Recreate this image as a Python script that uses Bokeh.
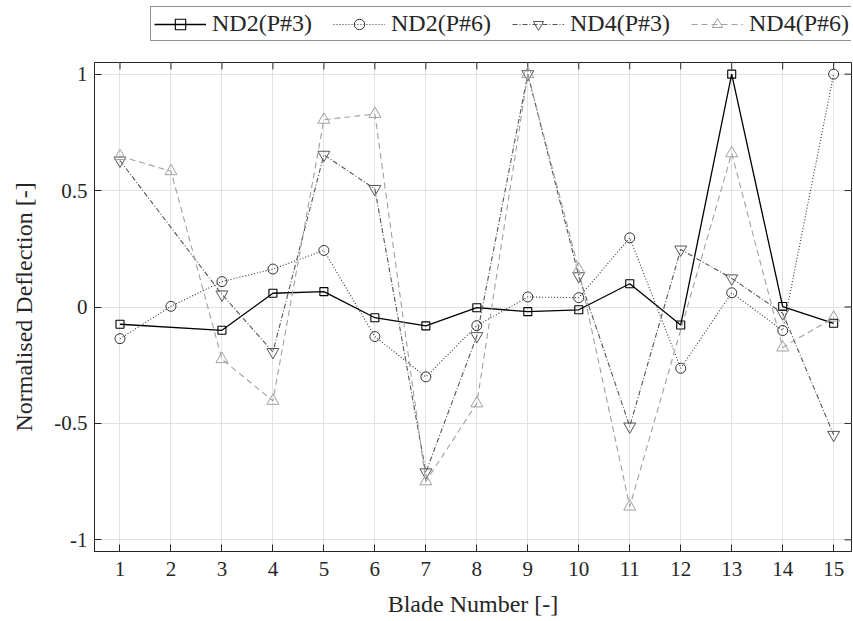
import math
from bokeh.plotting import figure
from bokeh.layouts import column
from bokeh.models import Legend, LegendItem, FixedTicker, Range1d
from bokeh.embed import file_html
from bokeh.resources import INLINE

# ---- data ----
blades = list(range(1, 16))
x_tick_labels = [str(b) for b in blades]
y_ticks = [-1, -0.5, 0, 0.5, 1]
y_tick_labels = ["-1", "-0.5", "0", "0.5", "1"]

nd2_p3_x = [1, 3, 4, 5, 6, 7, 8, 9, 10, 11, 12, 13, 14, 15]
nd2_p3_y = [-0.074, -0.100, 0.059, 0.066, -0.046, -0.081, -0.003, -0.020, -0.012, 0.100, -0.077, 1.000, 0.002, -0.070]

nd2_p6_x = [1, 2, 3, 4, 5, 6, 7, 8, 9, 10, 11, 12, 13, 14, 15]
nd2_p6_y = [-0.136, 0.003, 0.109, 0.163, 0.243, -0.127, -0.300, -0.080, 0.043, 0.040, 0.297, -0.263, 0.061, -0.101, 1.000]

nd4_p3_x = [1, 3, 4, 5, 6, 7, 8, 9, 10, 11, 12, 13, 14, 15]
nd4_p3_y = [0.629, 0.054, -0.193, 0.654, 0.507, -0.710, -0.125, 1.000, 0.133, -0.513, 0.247, 0.123, -0.027, -0.549]

nd4_p6_x = [1, 2, 3, 4, 5, 6, 7, 8, 9, 10, 11, 13, 14, 15]
nd4_p6_y = [0.648, 0.583, -0.224, -0.403, 0.804, 0.829, -0.749, -0.414, 1.000, 0.161, -0.857, 0.660, -0.174, -0.046]

series_labels = ["ND2(P#3)", "ND2(P#6)", "ND4(P#3)", "ND4(P#6)"]

FONT = "Liberation Serif"
AX = "#262626"

styles = [
    dict(line_color="black", line_width=1.3, line_dash="solid", marker="square", size=8, mlw=1.1),
    dict(line_color="#333333", line_width=1.1, line_dash="1 2", marker="circle", size=10, mlw=1),
    dict(line_color="#555555", line_width=1.1, line_dash="5 2 1 2", marker="inverted_triangle", size=12, mlw=1),
    dict(line_color="#a0a0a0", line_width=1.1, line_dash="6 4", marker="triangle", size=12, mlw=1),
]
series = [(nd2_p3_x, nd2_p3_y), (nd2_p6_x, nd2_p6_y), (nd4_p3_x, nd4_p3_y), (nd4_p6_x, nd4_p6_y)]

xr = Range1d(0.5, 15.35)
yr = Range1d(-1.05, 1.05)

# ---------- main plot ----------
p = figure(width=853, height=573, x_range=xr, y_range=yr,
           output_backend="svg", toolbar_location=None,
           min_border_left=94, min_border_right=2, min_border_top=14, min_border_bottom=70)

p.outline_line_color = AX
p.outline_line_width = 1

xt = FixedTicker(ticks=blades)
yt = FixedTicker(ticks=y_ticks)
p.xaxis.ticker = xt
p.yaxis.ticker = yt
p.xaxis.major_label_overrides = {b: l for b, l in zip(blades, x_tick_labels)}
p.yaxis.major_label_overrides = {t: l for t, l in zip(y_ticks, y_tick_labels)}
p.xaxis.axis_label = "Blade Number [-]"
p.yaxis.axis_label = "Normalised Deflection [-]"
for ax in (p.xaxis[0], p.yaxis[0]):
    ax.axis_label_text_font = FONT
    ax.axis_label_text_font_size = "24px"
    ax.axis_label_text_font_style = "normal"
    ax.axis_label_text_color = AX
    ax.major_label_text_font = FONT
    ax.major_label_text_font_size = "21px"
    ax.major_label_text_color = AX
    ax.major_tick_in = 7
    ax.major_tick_out = 0
    ax.minor_tick_line_color = None
    ax.major_tick_line_color = AX
    ax.axis_line_color = AX
p.xaxis.major_label_standoff = 10
p.yaxis.major_label_standoff = 7
p.xaxis.axis_label_standoff = 12
p.yaxis.axis_label_standoff = 14

p.xgrid.ticker = xt
p.ygrid.ticker = yt
p.grid.grid_line_color = "#e2e2e2"
p.grid.grid_line_width = 1

# inward ticks on top and right edges of the box
p.ray(x=blades, y=[yr.end] * len(blades), length=7, length_units="screen",
      angle=-math.pi / 2, line_color=AX, line_width=1)
p.ray(x=[xr.end] * len(y_ticks), y=y_ticks, length=7, length_units="screen",
      angle=math.pi, line_color=AX, line_width=1)

for (xs, ys), st in zip(series, styles):
    p.line(xs, ys, line_color=st["line_color"], line_width=st["line_width"], line_dash=st["line_dash"])
    p.scatter(xs, ys, marker=st["marker"], size=st["size"], line_color=st["line_color"],
              fill_color=None, line_width=st["mlw"])

# ---------- legend strip (same series, drawn out of its view; only the legend shows) ----------
lf = figure(width=853, height=48, x_range=Range1d(100, 101), y_range=Range1d(100, 101),
            x_axis_type=None, y_axis_type=None, output_backend="svg", toolbar_location=None,
            min_border_left=94, min_border_right=2, min_border_top=0, min_border_bottom=0)
lf.grid.visible = False
lf.outline_line_color = None

items = []
for lab, (xs, ys), st in zip(series_labels, series, styles):
    lr = lf.line(xs, ys, line_color=st["line_color"], line_width=st["line_width"], line_dash=st["line_dash"])
    mr = lf.scatter(xs, ys, marker=st["marker"], size=st["size"], line_color=st["line_color"],
                    fill_color=None, line_width=st["mlw"])
    items.append(LegendItem(label=lab, renderers=[lr, mr]))

legend = Legend(items=items, orientation="horizontal", location=(56, 7), margin=0,
                padding=3, spacing=21, glyph_width=52, glyph_height=26, label_height=26,
                label_standoff=6, label_text_font=FONT, label_text_font_size="24px",
                label_text_color=AX, border_line_color=AX, border_line_width=1,
                background_fill_color="white", background_fill_alpha=1)
lf.add_layout(legend, "center")

layout = column(lf, p, spacing=0)
open("out.html", "w").write(file_html(layout, INLINE))
